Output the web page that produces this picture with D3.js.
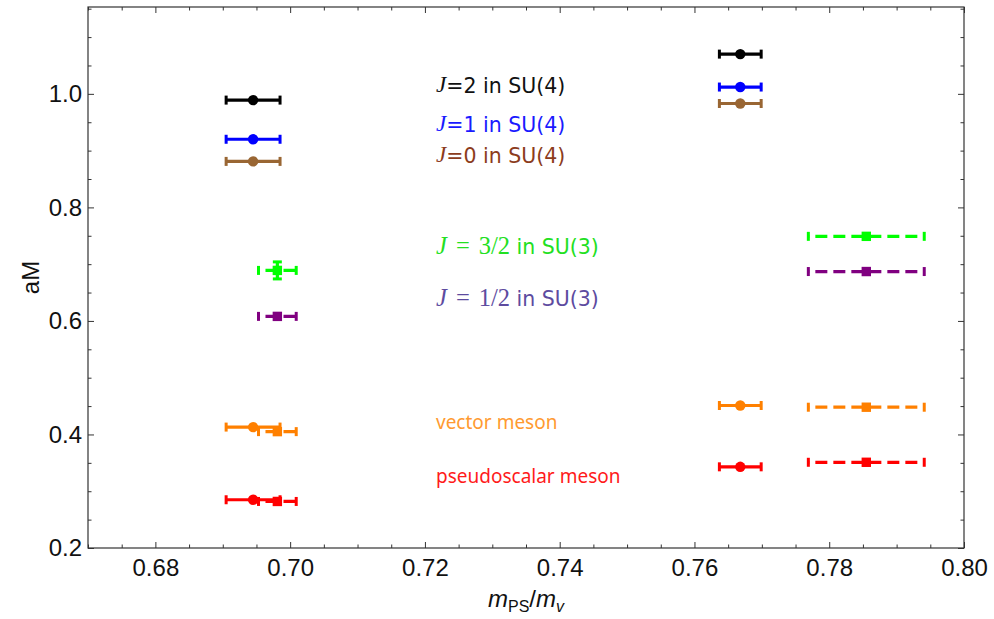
<!DOCTYPE html>
<html>
<head>
<meta charset="utf-8">
<script src="https://cdn.jsdelivr.net/npm/d3@7"></script>
<style>
  body { margin: 0; background: #fff; }
  svg { display: block; }
</style>
</head>
<body>
<svg id="chart" width="994" height="619"></svg>
<script>
// ---------------- data ----------------
// x positions (m_PS/m_v) of the two ensembles for each gauge group
const su4X = [0.6945, 0.7668];
const su4XErr = [0.0040, 0.0031];
const su3X = [0.6981, 0.7855];
const su3XErr = [0.0028, 0.0086];

// SU(4) series (circles, solid error bars)
const su4J2 = [0.989, 1.070];
const su4J1 = [0.920, 1.012];
const su4J0 = [0.881, 0.983];
const su4Vector = [0.413, 0.451];
const su4PS = [0.285, 0.343];

// SU(3) series (squares, dashed error bars)
const su3J32 = [0.689, 0.749];
const su3J32YErr = [0.015, 0.0];
const su3J12 = [0.608, 0.687];
const su3Vector = [0.405, 0.448];
const su3PS = [0.282, 0.351];

const xTicks = [0.68, 0.70, 0.72, 0.74, 0.76, 0.78, 0.80];
const yTicks = [0.2, 0.4, 0.6, 0.8, 1.0];

// ---------------- layout ----------------
const svg = d3.select("#chart");
const L = 88, R = 964, T = 7, B = 548;
const x = d3.scaleLinear().domain([0.67, 0.80]).range([L, R]);
const y = d3.scaleLinear().domain([0.2, 1.153]).range([B, T]);

const frameColor = "#333";
const tickFont = "Liberation Sans, Arial, sans-serif";

// minor ticks
const xMinor = d3.range(0, 27).map(i => +(0.67 + i * 0.005).toFixed(4)).filter(v => !xTicks.some(t => Math.abs(t - v) < 1e-6));
const yMinor = d3.range(0, 20).map(i => +(0.2 + i * 0.05).toFixed(4)).filter(v => v <= 1.153 && !yTicks.some(t => Math.abs(t - v) < 1e-6));

function styleAxis(g) {
  g.select(".domain").remove();
  g.selectAll(".tick line").attr("stroke", frameColor).attr("stroke-width", 1);
  g.selectAll(".tick text").attr("fill", "#111").attr("font-family", tickFont).attr("font-size", 24);
}

// bottom
svg.append("g").attr("transform", `translate(0,${B})`)
  .call(d3.axisBottom(x).tickValues(xTicks).tickSize(-6).tickPadding(11).tickFormat(d3.format(".2f")))
  .call(styleAxis);
svg.append("g").attr("transform", `translate(0,${B})`)
  .call(d3.axisBottom(x).tickValues(xMinor).tickSize(-3.5).tickFormat(""))
  .call(styleAxis);
// top mirror
svg.append("g").attr("transform", `translate(0,${T})`)
  .call(d3.axisTop(x).tickValues(xTicks).tickSize(-6).tickFormat(""))
  .call(styleAxis);
svg.append("g").attr("transform", `translate(0,${T})`)
  .call(d3.axisTop(x).tickValues(xMinor).tickSize(-3.5).tickFormat(""))
  .call(styleAxis);
// left
svg.append("g").attr("transform", `translate(${L},0)`)
  .call(d3.axisLeft(y).tickValues(yTicks).tickSize(-6).tickPadding(6).tickFormat(d3.format(".1f")))
  .call(styleAxis);
svg.append("g").attr("transform", `translate(${L},0)`)
  .call(d3.axisLeft(y).tickValues(yMinor).tickSize(-3.5).tickFormat(""))
  .call(styleAxis);
// right mirror
svg.append("g").attr("transform", `translate(${R},0)`)
  .call(d3.axisRight(y).tickValues(yTicks).tickSize(-6).tickFormat(""))
  .call(styleAxis);
svg.append("g").attr("transform", `translate(${R},0)`)
  .call(d3.axisRight(y).tickValues(yMinor).tickSize(-3.5).tickFormat(""))
  .call(styleAxis);

// frame
svg.append("rect").attr("x", L).attr("y", T).attr("width", R - L).attr("height", B - T)
  .attr("fill", "none").attr("stroke", frameColor).attr("stroke-width", 1.2);

// axis titles
svg.append("text").attr("transform", `translate(33,${(T + B) / 2}) rotate(-90)`)
  .attr("text-anchor", "middle").attr("dominant-baseline", "middle")
  .attr("font-family", tickFont).attr("font-size", 24).attr("fill", "#111").text("aM");

const xt = svg.append("text").attr("x", (L + R) / 2).attr("y", 607).attr("text-anchor", "middle")
  .attr("font-family", tickFont).attr("font-size", 24).attr("fill", "#111");
xt.append("tspan").attr("font-style", "italic").text("m");
xt.append("tspan").attr("font-size", 16).attr("dy", 5).text("PS");
xt.append("tspan").attr("dy", -5).text("/");
xt.append("tspan").attr("font-style", "italic").text("m");
xt.append("tspan").attr("font-size", 16).attr("font-style", "italic").attr("dy", 5).text("v");

// ---------------- marks ----------------
const plot = svg.append("g");

function errorSeries(xs, xerr, ys, color, shape, dashed, yerr) {
  xs.forEach((xv, i) => {
    const yv = ys[i];
    const x0 = x(xv - xerr[i]), x1 = x(xv + xerr[i]), yy = y(yv);
    const g = plot.append("g");
    g.append("line").attr("x1", x0).attr("x2", x1).attr("y1", yy).attr("y2", yy)
      .attr("stroke", color).attr("stroke-width", 3.2)
      .attr("stroke-dasharray", dashed ? "12,6" : null)
      .attr("stroke-dashoffset", dashed ? -7 : null);
    [x0, x1].forEach(cx => {
      g.append("line").attr("x1", cx).attr("x2", cx).attr("y1", yy - 4.5).attr("y2", yy + 4.5)
        .attr("stroke", color).attr("stroke-width", 3);
    });
    if (yerr && yerr[i] > 0) {
      const ya = y(yv + yerr[i]), yb = y(yv - yerr[i]);
      g.append("line").attr("x1", x(xv)).attr("x2", x(xv)).attr("y1", ya).attr("y2", yb)
        .attr("stroke", color).attr("stroke-width", 3.2);
      [ya, yb].forEach(cy => {
        g.append("line").attr("x1", x(xv) - 4.5).attr("x2", x(xv) + 4.5).attr("y1", cy).attr("y2", cy)
          .attr("stroke", color).attr("stroke-width", 3);
      });
    }
    if (shape === "circle") {
      g.append("circle").attr("cx", x(xv)).attr("cy", yy).attr("r", 5.2).attr("fill", color);
    } else {
      g.append("rect").attr("x", x(xv) - 4.7).attr("y", yy - 4.7).attr("width", 9.4).attr("height", 9.4).attr("fill", color);
    }
  });
}

const cBlack = "#000000", cBlue = "#0000ff", cBrown = "#996633", cGreen = "#00ff00",
      cPurple = "#800080", cOrange = "#ff8000", cRed = "#ff0000";

errorSeries(su4X, su4XErr, su4J2, cBlack, "circle", false);
errorSeries(su4X, su4XErr, su4J1, cBlue, "circle", false);
errorSeries(su4X, su4XErr, su4J0, cBrown, "circle", false);
errorSeries(su4X, su4XErr, su4Vector, cOrange, "circle", false);
errorSeries(su4X, su4XErr, su4PS, cRed, "circle", false);
errorSeries(su3X, su3XErr, su3J32, cGreen, "square", true, su3J32YErr);
errorSeries(su3X, su3XErr, su3J12, cPurple, "square", true);
errorSeries(su3X, su3XErr, su3Vector, cOrange, "square", true);
errorSeries(su3X, su3XErr, su3PS, cRed, "square", true);

// ---------------- labels ----------------
const sans = "Noto Sans, DejaVu Sans, sans-serif";
const sansJ = "DejaVu Sans, Noto Sans, sans-serif";
const serif = "Liberation Serif, Times New Roman, serif";
const lx = 436;

function su4Label(yc, num, color) {
  const t = svg.append("text").attr("x", lx).attr("y", yc).attr("dominant-baseline", "middle")
    .attr("font-family", sansJ).attr("font-size", 20.5).attr("fill", color);
  t.append("tspan").attr("font-family", serif).attr("font-style", "italic").attr("font-size", 23).text("J");
  t.append("tspan").text("=" + num + " in SU(4)");
}
function su3Label(yc, frac, color) {
  const t = svg.append("text").attr("x", lx).attr("y", yc).attr("dominant-baseline", "middle")
    .attr("font-family", sansJ).attr("font-size", 20.5).attr("fill", color);
  t.append("tspan").attr("font-family", serif).attr("font-style", "italic").attr("font-size", 24.5).text("J");
  t.append("tspan").attr("font-family", serif).attr("font-size", 24.5).attr("dx", 9).text("=");
  t.append("tspan").attr("font-family", serif).attr("font-size", 24.5).attr("dx", 9).text(frac);
  t.append("tspan").text(" in SU(3)");
}
su4Label(87, "2", "#111111");
su4Label(126, "1", "#1a1aff");
su4Label(157, "0", "#8c3c1c");
su3Label(248, "3/2", "#22e022");
su3Label(300, "1/2", "#5d4b9f");

svg.append("text").attr("x", lx).attr("y", 424).attr("dominant-baseline", "middle")
  .attr("font-family", sans).attr("font-size", 19).attr("fill", "#ff9a30").text("vector meson");
svg.append("text").attr("x", lx).attr("y", 478).attr("dominant-baseline", "middle")
  .attr("font-family", sans).attr("font-size", 19).attr("fill", "#ff1a1a").text("pseudoscalar meson");
</script>
</body>
</html>
